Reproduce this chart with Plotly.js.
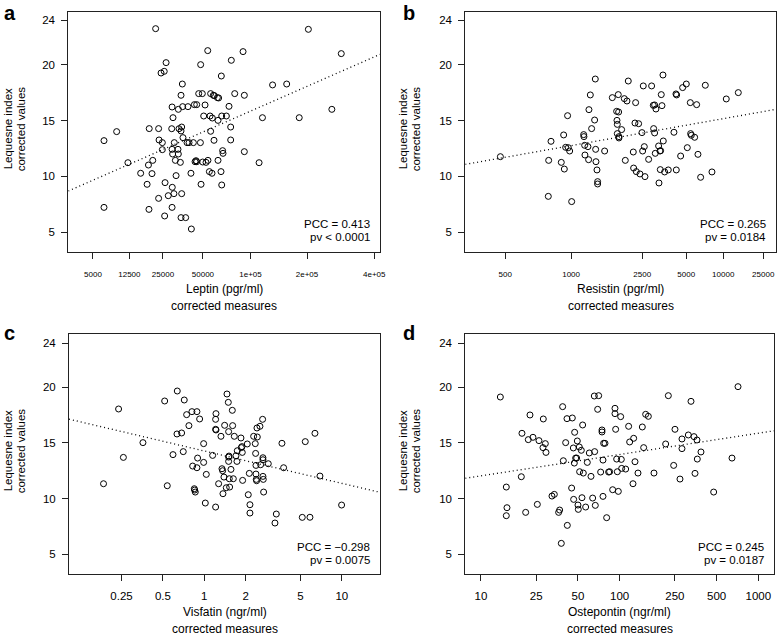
<!DOCTYPE html>
<html><head><meta charset="utf-8">
<script src="https://cdn.plot.ly/plotly-3.0.1.min.js"></script>
<style>html,body{margin:0;padding:0;background:#fff}</style>
</head><body><div id="chart" style="width:778px;height:636px"></div>
<script>
// ---- data ----
const leptinX = [21700,203000,53900,90400,289000,26500,48200,76700,24100,25600,66300,35500,133000,158000,34700,46700,49500,56400,58800,59700,62500,63700,80500,92000,29600,33100,35700,39100,43500,45200,51700,74200,262000,30100,50600,55900,66700,71400,57900,63100,117000,183000,76000,19100,23000,29400,33500,35100,34700,35900,56400,9290,6750,23200,24700,30800,38500,39800,42800,48000,59400,76000,24700,29600,32900,29900,33100,67600,68000,92000,20500,18800,12100,31400,34300,44000,44700,45200,49800,52500,54100,63100,112000,31800,16000,20200,41100,55300,57600,66000,26000,29700,18300,48500,66700,27600,30600,35100,23000,6750,19000,29600,25800,34700,37600,41400];
const leptinY = [23.25,23.19,21.28,21.19,21.01,20.2,20.02,20.41,19.27,19.42,19.0,18.28,18.2,18.28,17.27,17.42,17.42,17.42,17.27,17.24,17.06,17.03,17.42,17.27,16.22,16.01,16.25,16.25,16.43,16.43,16.4,16.28,16.01,15.26,15.41,15.41,15.41,15.41,15.23,15.02,15.26,15.26,14.42,14.28,14.28,14.27,14.27,14.42,14.07,13.47,14.04,14.01,13.2,13.26,13.02,13.02,13.02,13.02,13.02,13.02,13.23,13.26,12.39,12.42,12.42,12.0,12.0,12.3,12.06,12.21,11.43,11.01,11.22,11.43,11.25,11.31,11.4,11.31,11.28,11.25,11.43,11.43,11.22,10.06,10.27,10.24,10.27,10.42,10.27,10.42,9.43,9.01,9.28,9.28,9.22,8.26,8.44,8.44,8.02,7.21,7.03,7.21,6.44,6.29,6.29,5.27];

const resistinX = [477,779,776,799,895,919,926,940,961,969,984,1007,1159,1163,1173,1177,1220,1235,1230,1256,1276,1324,1335,1341,1346,1363,1374,1374,1501,1657,1754,1762,1770,1770,1793,1801,1809,1809,1875,1944,1971,2016,2053,2201,2211,2253,2274,2296,2373,2419,2490,2514,2538,2576,2601,2745,2870,2943,2958,3003,3003,3033,3064,3192,3209,3258,3275,3292,3326,3361,3414,3432,3504,3714,4070,4206,4253,4230,4546,4702,5006,5093,5366,5397,5461,5793,6005,6150,6457,7041,7994,10650,13790];
const resistinY = [11.76,11.43,8.2,13.14,11.25,13.71,10.65,12.6,15.44,12.57,12.27,7.73,13.74,13.56,12.78,11.91,12.66,15.98,11.49,17.3,14.28,15.05,18.73,12.42,11.31,10.57,9.52,9.31,12.27,17.06,15.83,15.02,14.66,13.83,17.33,15.77,13.56,13.44,14.19,16.97,11.43,16.76,18.55,12.18,10.74,14.78,16.61,10.42,14.72,10.21,13.92,12.27,18.11,12.66,9.97,11.52,18.11,16.37,14.28,16.4,13.89,12.06,16.04,12.72,9.4,12.27,10.6,12.3,17.33,16.34,19.09,13.17,10.39,10.57,13.95,17.39,17.3,10.57,11.82,17.96,18.28,12.57,16.61,13.83,13.68,13.5,16.43,11.97,9.91,18.17,10.39,16.94,17.51];

const visfatinX = [0.185,0.238,0.258,0.358,0.515,0.538,0.592,0.636,0.633,0.684,0.703,0.715,0.744,0.773,0.813,0.823,0.846,0.851,0.86,0.884,0.894,0.884,0.925,0.989,0.989,1.017,1.034,1.15,1.209,1.216,1.209,1.209,1.216,1.271,1.322,1.345,1.359,1.367,1.39,1.406,1.445,1.462,1.495,1.503,1.503,1.503,1.512,1.52,1.529,1.563,1.599,1.608,1.626,1.653,1.7,1.729,1.738,1.848,1.858,1.879,1.889,1.9,2.054,2.089,2.125,2.148,2.148,2.285,2.349,2.362,2.376,2.376,2.389,2.416,2.402,2.43,2.54,2.569,2.656,2.671,2.671,2.671,2.686,2.701,2.921,3.266,3.34,3.671,3.776,5.161,5.427,5.867,6.38,6.938,9.97];
const visfatinY = [11.33,18.06,13.7,15.03,18.78,11.15,13.95,19.68,15.81,15.9,14.22,18.87,17.55,16.56,17.82,12.92,10.88,10.76,10.58,17.82,13.64,12.77,17.16,14.94,13.25,9.59,12.17,13.88,9.23,17.64,17.13,16.23,16.17,11.33,15.6,12.68,12.5,10.43,11.93,16.59,10.97,19.41,18.66,16.02,13.73,13.34,13.82,11.78,11.03,12.62,17.94,16.56,11.78,15.6,13.85,13.34,14.3,15.45,14.58,14.67,14.15,11.63,14.91,10.34,12.26,9.44,8.69,15.6,14.94,14.06,12.98,12.2,11.72,16.35,11.6,15.54,16.5,13.04,17.13,13.67,13.49,11.99,11.72,10.58,13.13,7.79,8.6,14.97,12.77,8.3,15.12,8.31,15.87,12.02,9.41];

const ostepontinX = [13.79,15.23,15.40,15.23,19.54,19.75,21.00,21.94,22.56,23.71,25.49,26.20,28.15,28.00,29.11,29.43,32.51,33.80,36.31,36.92,38.81,39.25,40.80,41.94,41.71,37.96,45.06,45.57,46.34,46.59,47.11,47.37,48.16,48.97,49.51,50.34,50.06,51.18,51.46,52.91,53.50,54.10,54.70,56.86,58.45,60.43,62.13,63.87,65.66,66.76,66.03,70.58,69.41,72.95,74.58,74.58,75.83,75.83,76.67,78.38,80.58,83.30,84.69,89.04,92.54,92.54,93.58,95.15,96.21,97.81,101.7,102.8,103.4,110.5,116.1,118.1,126.2,124.8,129.0,135.6,145.7,149.0,154.0,161.0,176.8,214.7,224.4,245.2,250.6,272.3,281.5,281.5,312.8,326.9,343.6,349.4,361.1,363.1,385.9,476.4,645.8,713.5];
const ostepontinY = [19.14,11.03,9.17,8.45,11.96,15.87,8.75,15.3,17.52,15.51,9.47,15.21,17.16,14.58,14.94,14.15,10.22,10.37,8.75,8.96,18.27,13.4,15.03,7.58,17.19,5.96,10.94,17.25,14.55,9.92,13.19,15.96,13.64,13.64,15.18,9.02,9.41,14.64,12.41,14.34,10.07,16.62,12.29,9.23,13.25,14.1,11.99,10.04,19.23,9.38,14.22,19.26,18.03,12.38,16.17,15.99,13.46,10.19,14.97,14.97,8.27,12.38,12.41,10.79,18.12,17.64,16.23,13.55,12.41,10.64,17.37,13.52,12.71,12.65,16.5,15.09,15.42,11.33,13.31,12.29,16.44,14.58,17.58,17.4,12.29,14.91,19.26,12.98,16.23,11.75,15.36,14.49,15.72,18.75,15.57,12.26,15.27,13.55,14.19,10.58,13.64,20.07];

const yTicks = [5, 10, 15, 20, 24];
const leptinTicks = [5000, 12500, 25000, 50000, 100000, 200000, 400000];
const leptinTickText = ['5000', '12500', '25000', '50000', '1e+05', '2e+05', '4e+05'];
const resistinTicks = [500, 1000, 2500, 5000, 10000, 25000];
const resistinTickText = ['500', '1000', '2500', '5000', '10000', '25000'];
const visfatinTicks = [0.25, 0.5, 1, 2, 5, 10];
const visfatinTickText = ['0.25', '0.5', '1', '2', '5', '10'];
const ostepontinTicks = [10, 25, 50, 100, 250, 500, 1000];
const ostepontinTickText = ['10', '25', '50', '100', '250', '500', '1000'];

const stats = [
  ['PCC = 0.413', 'pv < 0.0001'],
  ['PCC = 0.265', 'pv = 0.0184'],
  ['PCC = \u22120.298', 'pv = 0.0075'],
  ['PCC = 0.245', 'pv = 0.0187']
];
const xTitles = [
  ['Leptin (pgr/ml)', 'corrected measures'],
  ['Resistin (pgr/ml)', 'corrected measures'],
  ['Visfatin (ngr/ml)', 'corrected measures'],
  ['Ostepontin (ngr/ml)', 'corrected measures']
];
const yTitle = ['Lequesne index', 'corrected values'];
const letters = ['a', 'b', 'c', 'd'];

// ---- transforms (power scales of the original axes) ----
const fa = v => Math.pow(v, 0.25);        // leptin axis
const fb = v => -Math.pow(v, -0.25);      // resistin axis
const lg = v => Math.log10(v);

function ols(xs, ys) {
  const n = xs.length;
  let mx = 0, my = 0;
  for (let i = 0; i < n; i++) { mx += xs[i]; my += ys[i]; }
  mx /= n; my /= n;
  let sxy = 0, sxx = 0;
  for (let i = 0; i < n; i++) { sxy += (xs[i]-mx)*(ys[i]-my); sxx += (xs[i]-mx)*(xs[i]-mx); }
  const b = sxy / sxx;
  return {a: my - b*mx, b: b};
}

// ---- layout geometry ----
const W = 778, H = 636;
const PX = v => v / W;
const PY = v => 1 - v / H;
const FONT = 'Liberation Sans, Arial, Helvetica, sans-serif';

const xr = [[6.94, 25.49], [-0.23193, -0.07300], [-0.984, 1.278], [0.887, 3.113]];
const xd = [[68.3, 380], [465.3, 776], [69, 380], [465.3, 774]];
const yd = [[12, 251.7], [12, 251.7], [333.7, 574], [333.7, 574]];
const yr = [[3.232, 24.745], [3.232, 24.745], [3.2, 24.84], [3.2, 24.84]];

const xs = [leptinX.map(fa), resistinX.map(fb), visfatinX, ostepontinX];
const ys = [leptinY, resistinY, visfatinY, ostepontinY];
const fitX = [leptinX.map(fa), resistinX.map(fb), visfatinX.map(lg), ostepontinX.map(lg)];

const traces = [];
const layout = {
  width: W, height: H,
  margin: {l: 0, r: 0, t: 0, b: 0},
  paper_bgcolor: '#fff', plot_bgcolor: '#fff',
  showlegend: false,
  font: {family: FONT, color: '#000'},
  annotations: []
};

const tickSets = [
  [leptinTicks.map(fa), leptinTickText, 8],
  [resistinTicks.map(fb), resistinTickText, 8],
  [visfatinTicks, visfatinTickText, 11.5],
  [ostepontinTicks, ostepontinTickText, 11.5]
];

for (let k = 0; k < 4; k++) {
  const sfx = k === 0 ? '' : String(k + 1);
  const xa = 'x' + sfx, ya = 'y' + sfx;
  const logAxis = k >= 2;
  const common = {
    showline: true, mirror: true, linecolor: '#222', linewidth: 1,
    ticks: 'outside', ticklen: 6, tickcolor: '#222', tickwidth: 1,
    showgrid: false, zeroline: false
  };
  layout['xaxis' + sfx] = Object.assign({}, common, {
    domain: [PX(xd[k][0]), PX(xd[k][1])],
    anchor: ya,
    type: logAxis ? 'log' : 'linear',
    range: xr[k],
    tickmode: 'array', tickvals: tickSets[k][0], ticktext: tickSets[k][1],
    tickfont: {family: FONT, size: tickSets[k][2], color: '#000'},
    ticklabelstandoff: logAxis ? 5 : 9
  });
  layout['yaxis' + sfx] = Object.assign({}, common, {
    domain: [PY(yd[k][1]), PY(yd[k][0])],
    anchor: xa,
    range: yr[k],
    tickmode: 'array', tickvals: yTicks, ticktext: yTicks.map(String),
    tickfont: {family: FONT, size: 11.5, color: '#000'},
    ticklabelstandoff: 4
  });

  // regression line (fitted on the transformed x scale)
  const f = ols(fitX[k], ys[k]);
  const r = xr[k];
  traces.push({
    type: 'scatter', mode: 'lines', xaxis: xa, yaxis: ya,
    x: logAxis ? [Math.pow(10, r[0]), Math.pow(10, r[1])] : [r[0], r[1]],
    y: [f.a + f.b * r[0], f.a + f.b * r[1]],
    line: {color: '#000', width: 1.3, dash: '1px,3px'},
    hoverinfo: 'skip'
  });
  traces.push({
    type: 'scatter', mode: 'markers', xaxis: xa, yaxis: ya,
    x: xs[k], y: ys[k],
    marker: {symbol: 'circle-open', size: 6, color: '#000', line: {width: 1, color: '#000'}},
    cliponaxis: false
  });

  const cx = (xd[k][0] + xd[k][1]) / 2;
  const cy = (yd[k][0] + yd[k][1]) / 2;
  const bot = yd[k][1];
  const ann = layout.annotations;
  // stats
  ann.push({xref: 'paper', yref: 'paper', x: PX(xd[k][1] - 8), y: PY(bot - 27.5), xanchor: 'right', yanchor: 'middle',
            text: stats[k][0], showarrow: false, font: {family: FONT, size: 11.5, color: '#000'}});
  ann.push({xref: 'paper', yref: 'paper', x: PX(xd[k][1] - 8), y: PY(bot - 14.5), xanchor: 'right', yanchor: 'middle',
            text: stats[k][1], showarrow: false, font: {family: FONT, size: 11.5, color: '#000'}});
  // x titles
  ann.push({xref: 'paper', yref: 'paper', x: PX(cx), y: PY(bot + 37.5), xanchor: 'center', yanchor: 'middle',
            text: xTitles[k][0], showarrow: false, font: {family: FONT, size: 12, color: '#000'}});
  ann.push({xref: 'paper', yref: 'paper', x: PX(cx), y: PY(bot + 54.5), xanchor: 'center', yanchor: 'middle',
            text: xTitles[k][1], showarrow: false, font: {family: FONT, size: 12, color: '#000'}});
  // y titles
  const yx0 = k % 2 === 0 ? 7.5 : 402.5;
  ann.push({xref: 'paper', yref: 'paper', x: PX(yx0), y: PY(cy - 3), xanchor: 'center', yanchor: 'middle', textangle: -90,
            text: yTitle[0], showarrow: false, font: {family: FONT, size: 11.5, color: '#000'}});
  ann.push({xref: 'paper', yref: 'paper', x: PX(yx0 + 13), y: PY(cy - 3), xanchor: 'center', yanchor: 'middle', textangle: -90,
            text: yTitle[1], showarrow: false, font: {family: FONT, size: 11.5, color: '#000'}});
  // panel letter
  const lx = k % 2 === 0 ? 9.5 : 409;
  const ly = k < 2 ? 13 : 333;
  ann.push({xref: 'paper', yref: 'paper', x: PX(lx), y: PY(ly), xanchor: 'center', yanchor: 'middle',
            text: '<b>' + letters[k] + '</b>', showarrow: false, font: {family: FONT, size: 20, color: '#000'}});
}

Plotly.newPlot('chart', traces, layout, {staticPlot: true, displayModeBar: false});
</script>
</body></html>
